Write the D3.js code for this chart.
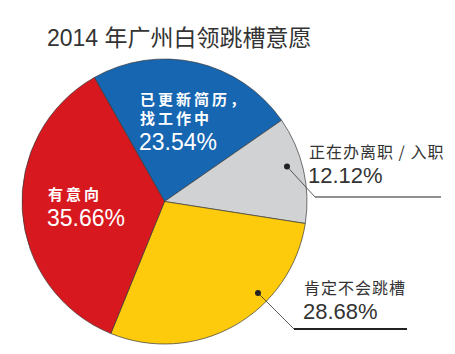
<!DOCTYPE html>
<html>
<head>
<meta charset="utf-8">
<script src="https://cdn.jsdelivr.net/npm/d3@7"></script>
<style>
  html, body { margin: 0; padding: 0; background: #fff; }
  svg { display: block; }
  text { font-family: "Liberation Sans", Arial, "Noto Sans CJK SC", sans-serif; }
  .cjk { font-family: "Noto Sans CJK SC", sans-serif; }
</style>
</head>
<body>
<svg id="chart" width="455" height="354"></svg>
<script>
    // data
    var categories = ["已更新简历，找工作中", "正在办离职 / 入职", "肯定不会跳槽", "有意向"];
    var values = [23.54, 12.12, 28.68, 35.66];
    var colors = ["#1666b2", "#d1d2d4", "#fdca0c", "#d7191f"];
    var title = "2014 年广州白领跳槽意愿";

    var svg = d3.select("#chart"),
        cx = 164.5,
        cy = 201.5,
        radius = 142.5,
        startDeg = -29.5;

    svg.append("text")
        .attr("x", 47)
        .attr("y", 46)
        .attr("font-size", 23)
        .attr("fill", "#333")
        .text(title);

    var rows = categories.map(function (c, i) { return { name: c, value: values[i], color: colors[i] }; });

    var pie = d3.pie()
        .sort(null)
        .value(function (d) { return d.value; })
        .startAngle(startDeg * Math.PI / 180)
        .endAngle((startDeg + 360) * Math.PI / 180);

    var arc = d3.arc().innerRadius(0).outerRadius(radius);

    var g = svg.append("g").attr("transform", "translate(" + cx + "," + cy + ")");

    g.selectAll("path.slice")
        .data(pie(rows))
        .enter()
        .append("path")
        .attr("class", "slice")
        .attr("d", arc)
        .attr("fill", function (d) { return d.data.color; })
        .attr("stroke", "#3a3a3a")
        .attr("stroke-width", 0.7);

    // labels inside slices (white), one text per label
    function inside(x, y, lines, pct) {
        var t = svg.append("text")
            .attr("x", x)
            .attr("y", y)
            .attr("fill", "#fff");
        lines.forEach(function (l, i) {
            t.append("tspan")
                .attr("x", x)
                .attr("dy", i === 0 ? 0 : 18.5)
                .attr("font-size", 15)
                .attr("font-weight", "bold")
                .attr("letter-spacing", 3)
                .text(l);
        });
        t.append("tspan")
            .attr("x", x - 1)
            .attr("dy", 26)
            .attr("font-size", 23)
            .text(pct);
    }
    inside(140, 105, ["已更新简历，", "找工作中"], values[0].toFixed(2) + "%");
    inside(48, 200, ["有意向"], values[3].toFixed(2) + "%");

    // callout labels outside
    function callout(dot, bend, lineEnd, lineW, x, y, name, pct) {
        svg.append("line")
            .attr("x1", dot[0]).attr("y1", dot[1])
            .attr("x2", bend[0]).attr("y2", bend[1])
            .attr("stroke", "#333").attr("stroke-width", 0.8);
        svg.append("line")
            .attr("x1", bend[0]).attr("y1", bend[1])
            .attr("x2", lineEnd).attr("y2", bend[1])
            .attr("stroke", "#222").attr("stroke-width", lineW);
        svg.append("circle")
            .attr("cx", dot[0]).attr("cy", dot[1])
            .attr("r", 3)
            .attr("fill", "#222");
        var t = svg.append("text")
            .attr("x", x)
            .attr("y", y)
            .attr("fill", "#333");
        t.append("tspan")
            .attr("class", "cjk")
            .attr("x", x)
            .attr("font-size", 16)
            .attr("letter-spacing", 1)
            .text(name);
        t.append("tspan")
            .attr("x", x - 1)
            .attr("dy", 25)
            .attr("font-size", 22)
            .text(pct);
    }
    callout([287, 166.5], [315, 197], 441, 1.2, 309, 158, categories[1], values[1].toFixed(2) + "%");
    callout([258, 293], [294, 329], 407, 2, 304, 294, categories[2], values[2].toFixed(2) + "%");
</script>
</body>
</html>
